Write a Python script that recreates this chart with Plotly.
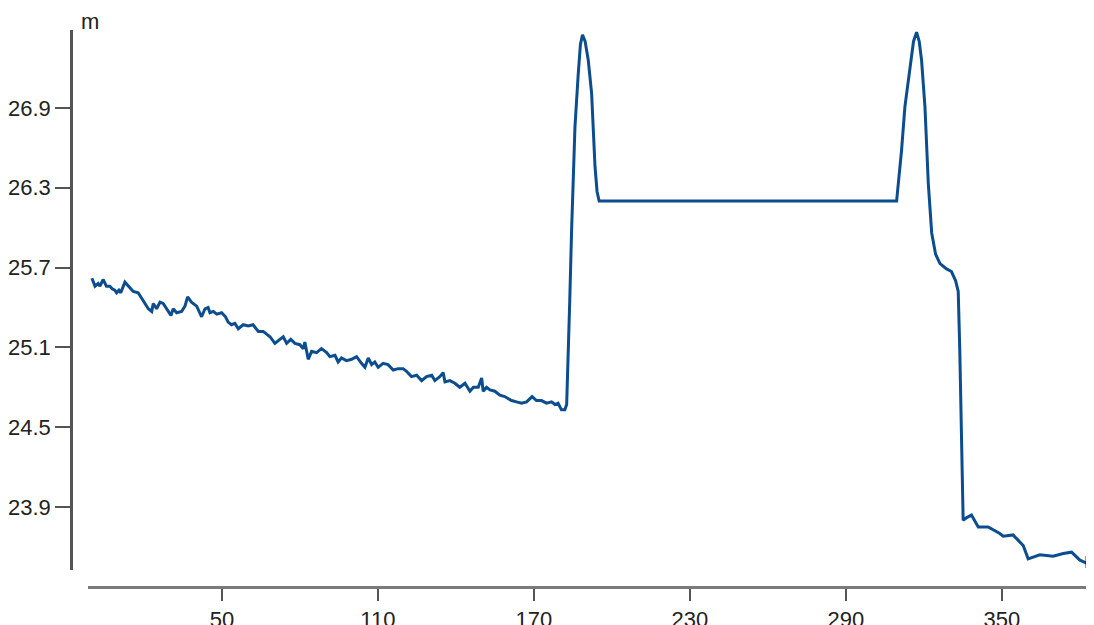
import plotly.graph_objects as go

# distance (n) and level (m)
x_vals = [0, 0.6, 1.2, 2.4, 3.1, 4.3, 5.6, 6.9, 7.8, 8.8, 9.5, 10.4, 11.1, 12.7, 14, 15.9, 17.8, 19.1, 20.4, 21.7,
          23, 23.6, 24.9, 26.2, 27.4, 28.7, 30.4, 31.3, 32.6, 34.5, 35.8, 36.8, 38.3, 40.3, 42.2, 43.5, 44.7, 45.4,
          46.7, 48, 49.9, 51.4, 52.4, 53.7, 55, 56.3, 58.2, 60.1, 62, 64, 65.9, 68.5, 70.4, 72.3, 73.6, 74.9, 76.5,
          78.1, 80, 81.3, 81.9, 83.2, 84.5, 86.4, 88.3, 90.3, 91.5, 93.5, 94.7, 96, 97.9, 99.9, 101.8, 103.7, 105,
          106.3, 107.6, 108.8, 110.1, 112, 113.9, 115.9, 117.8, 119.7, 121, 122.9, 124.9, 126.8, 128.7, 130.7,
          131.9, 133.8, 135.1, 135.8, 137.7, 139.6, 141.5, 143.5, 145.4, 146.7, 148.6, 149.9, 150.5, 151.8, 153.1,
          155, 156.9, 158.8, 161.4, 163.3, 165.3, 167.2, 169.3, 171, 172.9, 174.9, 176.8, 178.1, 179.3, 180.6,
          181.9, 182.6, 183.2, 183.8, 184.5, 185.8, 187, 187.9, 188.7, 189.7, 190.9, 192.2, 193.5, 194.3, 195.1,
          309.5, 310.4, 311.4, 312.7, 314.6, 316, 317.2, 318.2, 319.1, 320.4, 321.7, 323, 324.5, 326.2, 328.7,
          330.6, 332.2, 333.2, 333.8, 334.5, 335.1, 336.5, 338.3, 340.9, 344.7, 349.2, 350.5, 354.3, 358.2, 360.1,
          364.6, 369.7, 373.6, 376.8, 380, 384.5, 387]
y_vals = [25.62, 25.58, 25.56, 25.58, 25.56, 25.61, 25.56, 25.56, 25.54, 25.53, 25.51, 25.53, 25.51, 25.59, 25.56,
          25.52, 25.51, 25.47, 25.44, 25.39, 25.37, 25.43, 25.39, 25.44, 25.43, 25.39, 25.34, 25.39, 25.36, 25.37,
          25.41, 25.48, 25.44, 25.41, 25.33, 25.39, 25.40, 25.36, 25.37, 25.35, 25.36, 25.33, 25.29, 25.27, 25.28,
          25.24, 25.27, 25.26, 25.27, 25.22, 25.22, 25.18, 25.13, 25.16, 25.18, 25.13, 25.16, 25.13, 25.12, 25.09,
          25.14, 25.01, 25.07, 25.06, 25.09, 25.06, 25.03, 25.04, 24.99, 25.02, 25.00, 25.01, 25.03, 24.98, 24.95,
          25.02, 24.97, 24.99, 24.95, 24.98, 24.97, 24.93, 24.94, 24.94, 24.92, 24.88, 24.89, 24.85, 24.88, 24.89,
          24.85, 24.88, 24.91, 24.84, 24.85, 24.83, 24.80, 24.83, 24.77, 24.80, 24.80, 24.87, 24.77, 24.80, 24.78,
          24.77, 24.74, 24.73, 24.70, 24.69, 24.68, 24.69, 24.73, 24.70, 24.70, 24.68, 24.69, 24.67, 24.68, 24.63,
          24.63, 24.67, 25.01, 25.46, 25.98, 26.76, 27.14, 27.38, 27.45, 27.40, 27.26, 27.01, 26.46, 26.27, 26.20,
          26.20, 26.38, 26.58, 26.91, 27.21, 27.40, 27.47, 27.40, 27.26, 26.91, 26.33, 25.96, 25.80, 25.73, 25.69,
          25.67, 25.60, 25.52, 25.08, 24.33, 23.80, 23.82, 23.84, 23.75, 23.75, 23.70, 23.68, 23.69, 23.61, 23.51,
          23.54, 23.53, 23.55, 23.56, 23.50, 23.46, 23.44]

y_ticks = [23.9, 24.5, 25.1, 25.7, 26.3, 26.9]
x_ticks = [50, 110, 170, 230, 290, 350]

W, H = 1094, 625
OFF = 8  # page body margin that shifts the figure
FONT = dict(family="Liberation Sans, Arial, sans-serif", size=22, color="#222222")

fig = go.Figure()
fig.add_trace(go.Scatter(x=x_vals, y=y_vals, mode="lines",
                         line=dict(color="#0b4d8e", width=3), hoverinfo="skip", showlegend=False))

fig.update_layout(
    width=W, height=H,
    margin=dict(l=0, r=0, t=0, b=0),
    paper_bgcolor="white", plot_bgcolor="white",
    font=FONT,
    xaxis=dict(domain=[(88 - OFF) / W, 1], range=[-1.5, -1.5 + (W - 88 + OFF) / 2.6], anchor="free",
               position=(H - (587 - OFF)) / H,
               showgrid=False, zeroline=False, showline=True, linecolor="#7a7a7a", linewidth=2.5,
               ticks="outside", ticklen=12, tickwidth=2, tickcolor="#555555",
               tickvals=x_ticks, ticktext=[str(v) for v in x_ticks], tickfont=FONT),
    yaxis=dict(domain=[(H - (570 - OFF)) / H, (H - (30 - OFF)) / H], range=[23.426, 27.486], anchor="free",
               position=(71 - OFF) / W,
               showgrid=False, zeroline=False, showline=True, linecolor="#555555", linewidth=2.5,
               ticks="outside", ticklen=15, tickwidth=2, tickcolor="#555555",
               tickvals=y_ticks, ticktext=[f"{v:.1f}" for v in y_ticks], tickfont=FONT),
)

fig.add_annotation(text="m", xref="paper", yref="paper", x=(79 - OFF) / W, y=1 - (22 - OFF) / H,
                   xanchor="left", yanchor="middle", showarrow=False, font=FONT)
fig.add_annotation(text="n", xref="paper", yref="paper", x=(1082 - OFF) / W, y=1 - (560 - OFF) / H,
                   xanchor="left", yanchor="middle", showarrow=False, font=FONT)

fig.write_html("out.html")
